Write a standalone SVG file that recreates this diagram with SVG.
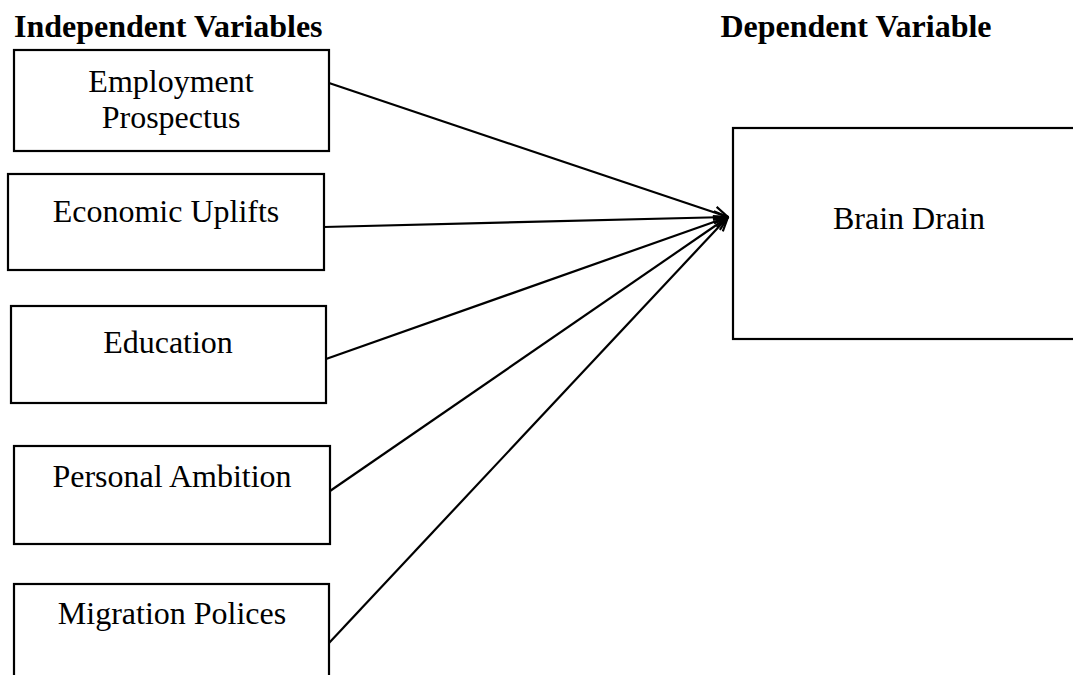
<svg xmlns="http://www.w3.org/2000/svg" width="1073" height="675" viewBox="0 0 1073 675">
<style>
.box{fill:#fff;stroke:#000;stroke-width:2.2}
.t{font-family:"Liberation Serif","Times New Roman",serif;font-size:32px;fill:#000;text-anchor:middle}
.h{font-family:"Liberation Serif","Times New Roman",serif;font-size:32px;font-weight:bold;fill:#000}
.c{stroke:#000;stroke-width:2.2;fill:none;marker-end:url(#arr)}
</style>
<defs>
<marker id="arr" viewBox="0 0 16 16" refX="15" refY="8" markerWidth="16" markerHeight="16" markerUnits="userSpaceOnUse" orient="auto">
<path d="M1,2 L15,8 L1,14" fill="none" stroke="#000" stroke-width="2.2"/>
</marker>
</defs>
<rect width="1073" height="675" fill="#fff"/>
<text class="h" x="14" y="37">Independent Variables</text>
<text class="h" x="856" y="37" text-anchor="middle">Dependent Variable</text>
<g id="n1"><rect class="box" x="14" y="50" width="315" height="101"/><text class="t" x="171" y="92">Employment</text><text class="t" x="171" y="128">Prospectus</text></g>
<g id="n2"><rect class="box" x="8" y="174" width="316" height="96"/><text class="t" x="166" y="222">Economic Uplifts</text></g>
<g id="n3"><rect class="box" x="11" y="306" width="315" height="97"/><text class="t" x="168" y="353">Education</text></g>
<g id="n4"><rect class="box" x="14" y="446" width="316" height="98"/><text class="t" x="172" y="487">Personal Ambition</text></g>
<g id="n5"><rect class="box" x="14" y="584" width="315" height="120"/><text class="t" x="172" y="624">Migration Polices</text></g>
<g id="n6"><rect class="box" x="733" y="128" width="360" height="211"/><text class="t" x="909" y="229">Brain Drain</text></g>
<g id="connectors">
<line class="c" x1="329" y1="83" x2="728" y2="217"/>
<line class="c" x1="324" y1="227" x2="728" y2="217"/>
<line class="c" x1="326" y1="359" x2="728" y2="217"/>
<line class="c" x1="330" y1="491" x2="728" y2="217"/>
<line class="c" x1="329" y1="643" x2="728" y2="217"/>
</g>
</svg>
